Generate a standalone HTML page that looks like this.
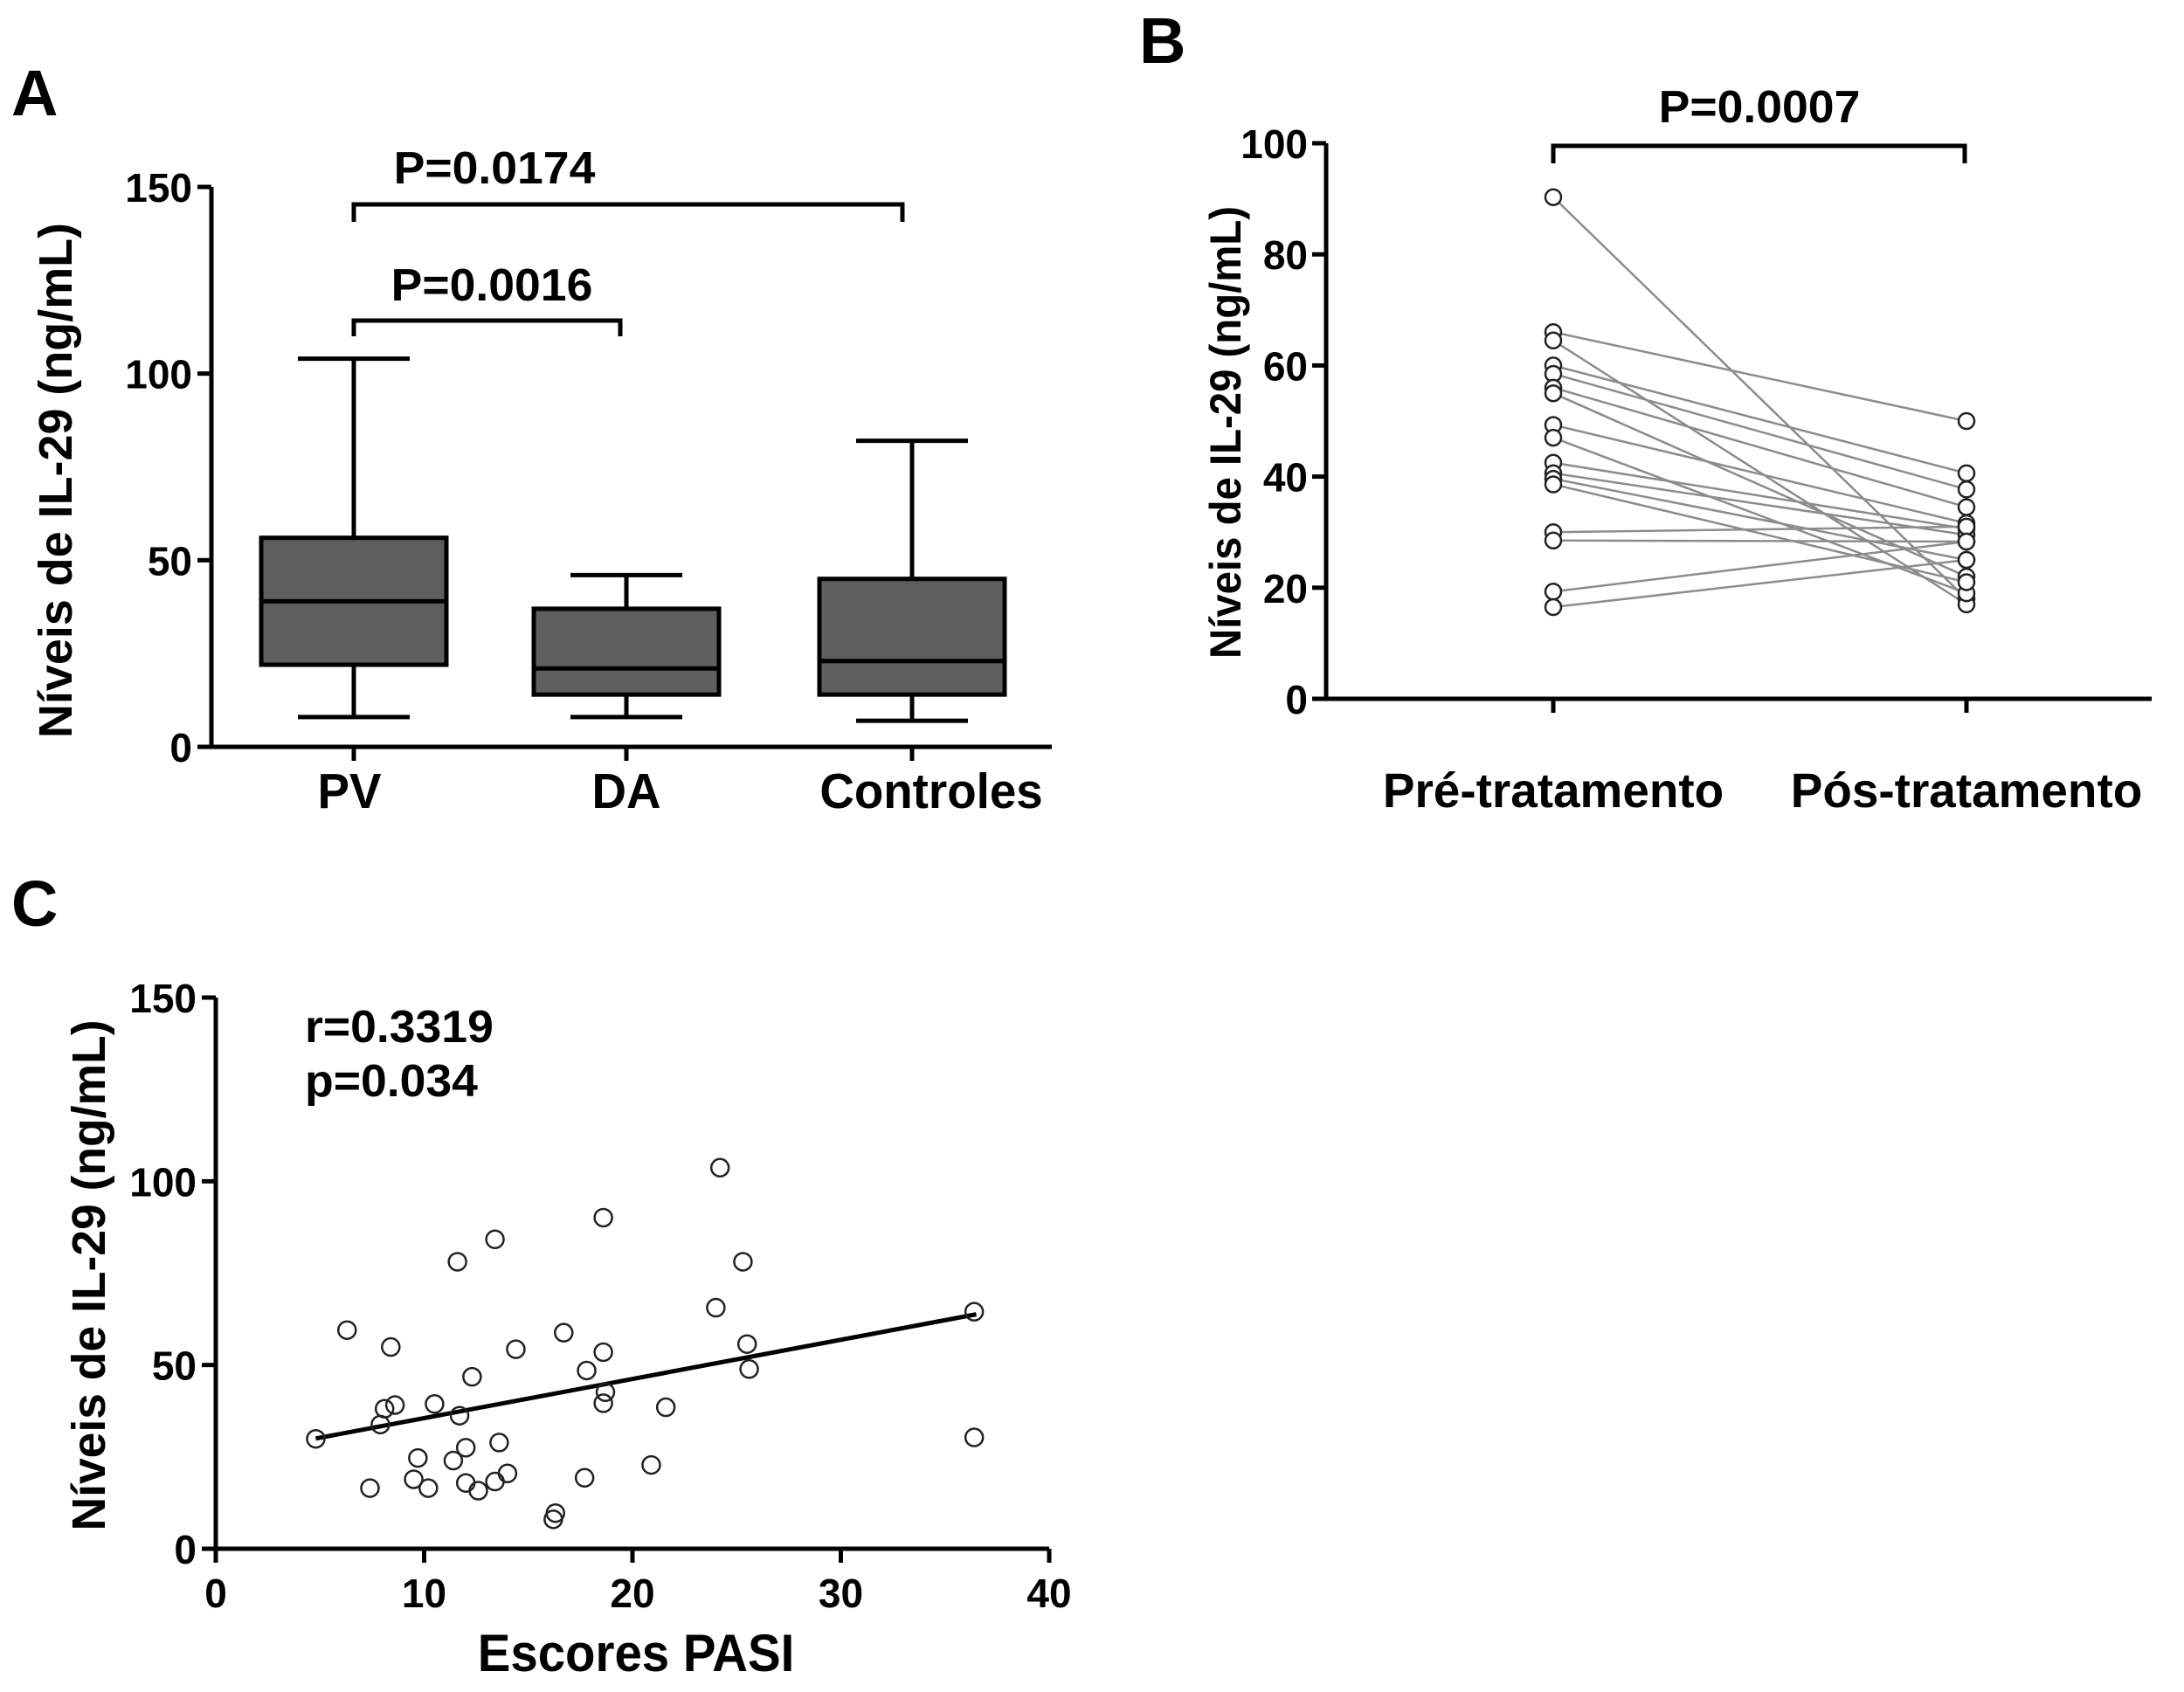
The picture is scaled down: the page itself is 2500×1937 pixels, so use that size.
<!DOCTYPE html>
<html><head><meta charset="utf-8"><style>
html,body{margin:0;padding:0;background:#fff}
svg{display:block}
text{font-family:"Liberation Sans",sans-serif;font-weight:bold;fill:#000}
</style></head><body>
<svg id="fig" width="2500" height="1937" viewBox="0 0 2500 1937" xmlns="http://www.w3.org/2000/svg">
<rect width="2500" height="1937" fill="#fff"/>
</svg>
<script>
// Panel A data
const aCategories = ["PV","DA","Controles"];
const aWhiskerLow = [8, 8, 7];
const aQ1 = [22, 14, 14];
const aMedian = [39, 21, 23];
const aQ3 = [56, 37, 45];
const aWhiskerHigh = [104, 46, 82];
const aYTicks = [0, 50, 100, 150];
// Panel B data
const bCategories = ["Pré-tratamento","Pós-tratamento"];
const bPre = [90.3,66,64.5,60,58.5,56,55,49.3,47,42.5,40.6,39.6,38.6,30,28.5,19.3,16.5];
const bPost = [18,50,17,40.6,37.7,34.5,22,31.6,19,30.6,29.5,25,21,31,28.3,28.3,25];
const bYTicks = [0,20,40,60,80,100];
// Panel C data
const cPasi = [4.8,6.3,7.4,7.9,8.1,8.4,8.6,9.5,9.7,10.2,10.5,11.4,11.6,11.7,12.0,12.0,12.3,12.6,13.4,13.4,13.6,14.0,14.4,16.2,16.3,16.7,17.7,17.8,18.6,18.6,18.7,18.6,20.9,21.6,24.0,24.2,25.3,25.5,25.6,36.4,36.4];
const cLevel = [29.9,59.5,16.5,33.8,38.1,54.9,39.1,18.9,24.7,16.5,39.4,24.0,78.1,36.2,27.5,17.9,46.8,15.8,84.2,18.3,28.9,20.5,54.3,8.0,9.7,58.8,19.3,48.5,90.1,53.5,42.6,39.6,22.8,38.5,65.6,103.7,78.1,55.7,48.9,64.5,30.3];
const cFitX = [4.8, 36.5];
const cFitY = [30, 63.8];
const cXTicks = [0,10,20,30,40];
const cYTicks = [0,50,100,150];

const svg = document.getElementById('fig');
const NS = 'http://www.w3.org/2000/svg';
function mk(tag, attrs, parent){
  const e = document.createElementNS(NS, tag);
  for (const k in attrs) e.setAttribute(k, attrs[k]);
  (parent||svg).appendChild(e);
  return e;
}
function txt(str, x, y, size, anchor, sx){
  const t = mk('text', {x:0, y:0, 'font-size':size, 'text-anchor':anchor||'start',
    transform:`translate(${x},${y}) scale(${sx||1},1)`});
  t.textContent = str;
  return t;
}
function line(x1,y1,x2,y2,w,c){ return mk('line',{x1,y1,x2,y2,stroke:c||'#000','stroke-width':w||5}); }

// ---------- Panel A ----------
const aX0=242, aX1=1204, aY0=855, aY150=214;
const ay = v => aY0 - (v/150)*(aY0-aY150);
const aCatX = [405, 717, 1044];
const aLabelX = [400, 717, 1066];
let t = txt('A', 13, 132, 74);  
let l = line(aX0, aY150, aX0, aY0+2.5);  
l = line(aX0-2.5, aY0, aX1, aY0);  
aYTicks.forEach(v=>{
  const tk = line(226, ay(v), aX0, ay(v));
   
  const tl = txt(String(v), 220, ay(v)+17, 46, 'end', 1.0);
   
});
t = mk('text',{x:0,y:0,'font-size':54,'text-anchor':'middle',transform:'translate(82,550) rotate(-90)',textLength:590,lengthAdjust:'spacingAndGlyphs'});
t.textContent='Níveis de IL-29 (ng/mL)';
 
aCategories.forEach((c,i)=>{
  const cx = aCatX[i], hw=106, cw=64;
  const g = mk('g',{});
   
  mk('line',{x1:cx,y1:ay(aWhiskerLow[i]),x2:cx,y2:ay(aQ1[i]),stroke:'#000','stroke-width':5},g);
  mk('line',{x1:cx,y1:ay(aQ3[i]),x2:cx,y2:ay(aWhiskerHigh[i]),stroke:'#000','stroke-width':5},g);
  mk('line',{x1:cx-cw,y1:ay(aWhiskerLow[i]),x2:cx+cw,y2:ay(aWhiskerLow[i]),stroke:'#000','stroke-width':5},g);
  mk('line',{x1:cx-cw,y1:ay(aWhiskerHigh[i]),x2:cx+cw,y2:ay(aWhiskerHigh[i]),stroke:'#000','stroke-width':5},g);
  mk('rect',{x:cx-hw,y:ay(aQ3[i]),width:2*hw,height:ay(aQ1[i])-ay(aQ3[i]),fill:'#5e5e5e',stroke:'#000','stroke-width':5},g);
  mk('line',{x1:cx-hw,y1:ay(aMedian[i]),x2:cx+hw,y2:ay(aMedian[i]),stroke:'#000','stroke-width':5},g);
  const xt = line(cx, aY0, cx, aY0+16);
   
  const cl = txt(c, aLabelX[i], 925, 57, 'middle', 0.96);
   
});
function bracket(x1,x2,y,drop,name){
  const p = mk('path',{d:`M${x1},${y+drop} L${x1},${y} L${x2},${y} L${x2},${y+drop}`,fill:'none',stroke:'#000','stroke-width':5});
   
}
bracket(405,1033,234,20,'bracket-pv-controles');
t = txt('P=0.0174',566,210,52,'middle',1.03);  
bracket(405,710,367,18,'bracket-pv-da');
t = txt('P=0.0016',563,344,52,'middle',1.03);  

// ---------- Panel B ----------
const bX0=1518, bX1=2463, bY0=800, bY100=164;
const by = v => bY0 - (v/100)*(bY0-bY100);
const bCatX=[1778,2251];
t = txt('B',1304,72,74);  
l = line(bX0,bY100,bX0,bY0+2.5);  
l = line(bX0-2.5,bY0,bX1,bY0);  
bYTicks.forEach(v=>{
  const tk = line(1502,by(v),bX0,by(v));
   
  const tl = txt(String(v),1497,by(v)+17,46,'end',1.0);
   
});
t = mk('text',{x:0,y:0,'font-size':50,'text-anchor':'middle',transform:'translate(1420,495) rotate(-90)',textLength:518,lengthAdjust:'spacingAndGlyphs'});
t.textContent='Níveis de IL-29 (ng/mL)';
 
bCategories.forEach((c,i)=>{
  const xt = line(bCatX[i],bY0,bCatX[i],bY0+16);
   
  const cl = txt(c,bCatX[i],924,56,'middle',0.98);
   
});
bracket(1778,2249,167,20,'bracket-pre-pos');
t = txt('P=0.0007',2014,140,52,'middle',1.03);  
bPre.forEach((v,i)=>{
  const pl = line(bCatX[0],by(v),bCatX[1],by(bPost[i]),2.5,'#8c8c8c');
   
});
bPre.forEach((v,i)=>{
  const c1 = mk('circle',{cx:bCatX[0],cy:by(v),r:9,fill:'#fff',stroke:'#222','stroke-width':2.5});
   
  const c2 = mk('circle',{cx:bCatX[1],cy:by(bPost[i]),r:9,fill:'#fff',stroke:'#222','stroke-width':2.5});
   
});

// ---------- Panel C ----------
const cX0=247, cX40=1201, cY0=1773, cY150=1142;
const cx = v => cX0 + (v/40)*(cX40-cX0);
const cy = v => cY0 - (v/150)*(cY0-cY150);
t = txt('C',13,1060,74);  
l = line(cX0,cY150,cX0,cY0+2.5);  
l = line(cX0-2.5,cY0,cX40,cY0);  
cYTicks.forEach(v=>{
  const tk = line(231,cy(v),cX0,cy(v));
   
  const tl = txt(String(v),225,cy(v)+17,46,'end',1.0);
   
});
cXTicks.forEach(v=>{
  const tk = line(cx(v),cY0,cx(v),cY0+16);
   
  const tl = txt(String(v),cx(v),1840,46,'middle',1.0);
   
});
t = mk('text',{x:0,y:0,'font-size':54,'text-anchor':'middle',transform:'translate(120,1460) rotate(-90)',textLength:585,lengthAdjust:'spacingAndGlyphs'});
t.textContent='Níveis de IL-29 (ng/mL)';
 
t = txt('Escores PASI',728,1913,60,'middle',0.94);  
t = txt('r=0.3319',349,1193,52,'start',1.03);  
t = txt('p=0.034',349,1255,52,'start',1.03);  
l = line(cx(cFitX[0]),cy(cFitY[0]),cx(cFitX[1]),cy(cFitY[1]),5,'#000');
 
cPasi.forEach((v,i)=>{
  const c = mk('circle',{cx:cx(v),cy:cy(cLevel[i]),r:10,fill:'none',stroke:'#222','stroke-width':2.5});
   
});
</script>
</body></html>
